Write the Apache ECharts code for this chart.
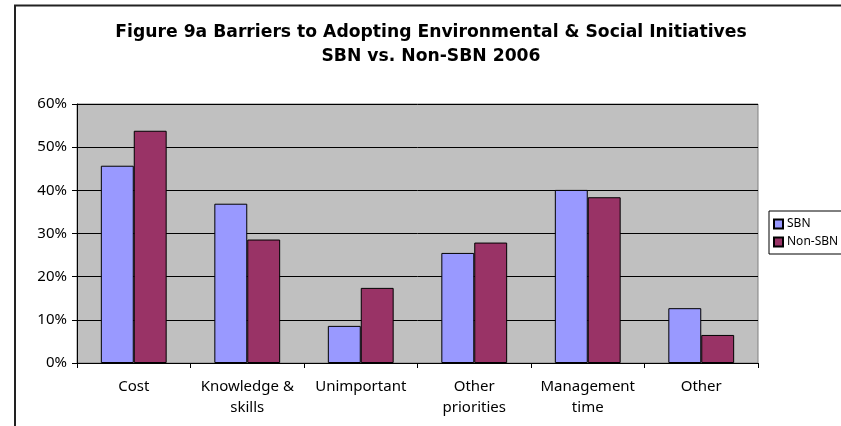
<!DOCTYPE html>
<html>
<head>
<meta charset="utf-8">
<script src="https://cdn.jsdelivr.net/npm/echarts@6/dist/echarts.min.js"></script>
<style>
  html, body { margin: 0; padding: 0; background: #ffffff; }
  #chart { width: 841px; height: 426px; }
</style>
</head>
<body>
<div id="chart"></div>
<script>
// Barrier categories (x axis)
const categories = ['Cost', 'Knowledge &\nskills', 'Unimportant', 'Other\npriorities', 'Management\ntime', 'Other'];
// Share of respondents citing each barrier, in percent
const sbnValues = [45.7, 36.9, 8.6, 25.5, 40.1, 12.7];
const nonSbnValues = [53.8, 28.6, 17.4, 27.9, 38.4, 6.5];
const seriesNames = ['SBN', 'Non-SBN'];
const titleLines = ['Figure 9a Barriers to Adopting Environmental & Social Initiatives', 'SBN vs. Non-SBN 2006'];

const chart = echarts.init(document.getElementById('chart'), null, { renderer: 'canvas' });
const font = 'Noto Sans';

chart.setOption({
  animation: false,
  backgroundColor: '#ffffff',
  textStyle: { fontFamily: font },
  title: {
    text: titleLines.join('\n'),
    left: 426,
    textAlign: 'center',
    top: 16,
    textStyle: { fontFamily: 'DejaVu Sans', fontWeight: 'bold', fontSize: 17.2, color: '#000', lineHeight: 23.4 }
  },
  graphic: [
    // outer chart frame (left and top edges)
    { type: 'polyline', shape: { points: [[15, 426], [15, 5.5], [841, 5.5]] }, style: { stroke: '#222', lineWidth: 2, fill: null } }
  ],
  legend: {
    orient: 'vertical',
    left: 769,
    top: 211,
    padding: [7, 4, 6, 4],
    itemGap: 6,
    itemWidth: 9,
    itemHeight: 9,
    icon: 'rect',
    backgroundColor: '#ffffff',
    borderColor: '#000',
    borderWidth: 1,
    borderRadius: 0,
    textStyle: { fontFamily: font, fontSize: 12, color: '#000', padding: [0, 0, 0, -1] },
    data: seriesNames
  },
  grid: {
    left: 77, right: 83, top: 104, bottom: 63,
    show: true, backgroundColor: '#C0C0C0', borderColor: '#808080', borderWidth: 1
  },
  xAxis: {
    type: 'category',
    data: categories,
    axisLine: { lineStyle: { color: '#000', width: 1 } },
    axisTick: { show: true, length: 5, lineStyle: { color: '#000' } },
    axisLabel: { color: '#000', fontSize: 15, margin: 13, lineHeight: 21, interval: 0 }
  },
  yAxis: {
    type: 'value',
    min: 0, max: 60, interval: 10,
    axisLine: { show: true, lineStyle: { color: '#000', width: 1 } },
    axisTick: { show: true, length: 5, lineStyle: { color: '#000' } },
    axisLabel: { color: '#000', fontSize: 15, margin: 10, formatter: '{value}%' },
    splitLine: { show: true, lineStyle: { color: '#000', width: 1 } }
  },
  series: [
    {
      name: seriesNames[0], type: 'bar', data: sbnValues,
      barGap: '0%', barCategoryGap: '42%',
      itemStyle: { color: '#9999FF', borderColor: '#000', borderWidth: 1 }
    },
    {
      name: seriesNames[1], type: 'bar', data: nonSbnValues,
      barGap: '0%', barCategoryGap: '42%',
      itemStyle: { color: '#993366', borderColor: '#000', borderWidth: 1 }
    }
  ]
});
</script>
</body>
</html>
